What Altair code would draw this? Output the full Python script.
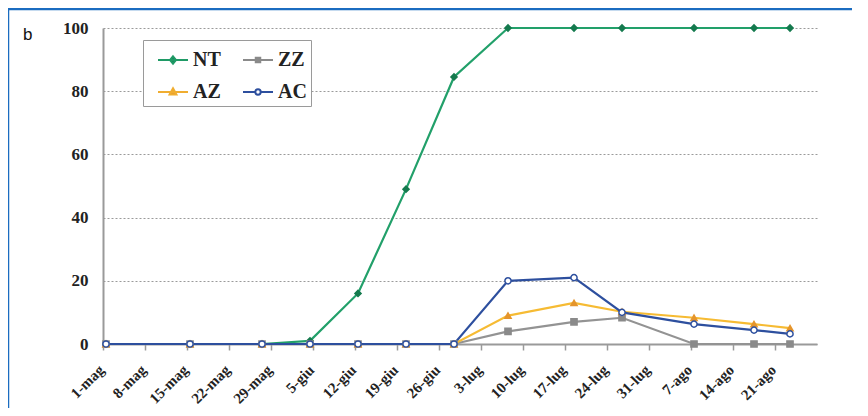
import json
import altair as alt
import pandas as pd

# ---- data -------------------------------------------------------------
series = ["NT", "ZZ", "AZ", "AC"]
dates = ["2011-05-01T12:00:00Z", "2011-05-15T12:00:00Z", "2011-05-27T12:00:00Z",
         "2011-06-04T12:00:00Z", "2011-06-12T12:00:00Z", "2011-06-20T12:00:00Z",
         "2011-06-28T12:00:00Z", "2011-07-07T12:00:00Z", "2011-07-18T12:00:00Z",
         "2011-07-26T12:00:00Z", "2011-08-07T12:00:00Z", "2011-08-17T12:00:00Z",
         "2011-08-23T12:00:00Z"]
nt = [0, 0, 0, 1, 16, 49, 84.5, 100, 100, 100, 100, 100, 100]
zz = [0, 0, 0, 0, 0, 0, 0, 4, 7, 8.3, 0, 0, 0]
az = [0, 0, 0, 0, 0, 0, 0, 9, 13, 10.2, 8.3, 6.3, 5]
ac = [0, 0, 0, 0, 0, 0, 0, 20, 21, 10, 6.3, 4.4, 3.2]
tick_labels = ["1-mag", "8-mag", "15-mag", "22-mag", "29-mag", "5-giu", "12-giu",
               "19-giu", "26-giu", "3-lug", "10-lug", "17-lug", "24-lug", "31-lug",
               "7-ago", "14-ago", "21-ago"]
y_ticks = [0, 20, 40, 60, 80, 100]

line_colors = ["#22a06a", "#939393", "#f6bb33", "#2d4f9e"]
marker_fill = ["#157a4e", "#8a8a8a", "#e5952c", "#ffffff"]
marker_stroke = ["#157a4e", "#8a8a8a", "#e5952c", "#2d4f9e"]
legend_stroke = ["#1f9a66", "#8a8a8a", "#f0ad30", "#2d4f9e"]
marker_shapes = ["diamond", "square", "triangle-up", "circle"]
legend_paths = [
    "M-1,0H1M0,-0.24L0.2,0L0,0.24L-0.2,0Z",
    "M-1,0H1M-0.15,-0.15H0.15V0.15H-0.15Z",
    "M-1,0H1M0,-0.25L0.23,0.17H-0.23Z",
    "M-1,0H-0.18A0.18,0.18 0 1,0 0.18,0A0.18,0.18 0 1,0 -0.18,0M0.18,0H1",
]

rows = []
for s, vals in zip(series, [nt, zz, az, ac]):
    for d, v in zip(dates, vals):
        rows.append({"series": s, "date": d, "value": v})
df = pd.DataFrame(rows)

start_ms = int(pd.Timestamp("2011-05-01", tz="UTC").value // 10**6)
end_ms = int(pd.Timestamp("2011-08-28", tz="UTC").value // 10**6)
week = 7 * 86400000
tick_ms = [start_ms + i * week for i in range(len(tick_labels))]
label_expr = f"{json.dumps(tick_labels)}[round((datum.value - {start_ms}) / {week})]"

SERIF = "Liberation Serif"

x_enc = alt.X("date:T",
              scale=alt.Scale(type="utc", domain=[start_ms, end_ms]),
              axis=alt.Axis(values=tick_ms, labelExpr=label_expr, labelAngle=-45,
                            labelAlign="right", labelBaseline="middle", labelPadding=17,
                            labelOffset=-2,
                            tickSize=6, tickColor="#9a9a9a", tickWidth=1.5,
                            domainColor="#9a9a9a", domainWidth=2,
                            labelFont=SERIF, labelFontWeight="bold", labelFontSize=15,
                            labelColor="#222", labelOverlap=False, labelBound=False,
                            labelFlush=False, grid=False, title=None))
y_enc = alt.Y("value:Q",
              scale=alt.Scale(domain=[0, 100], nice=False),
              axis=alt.Axis(values=y_ticks, grid=True, gridDash=[2, 2], gridColor="#9a9a9a",
                            gridWidth=1, ticks=False, domainColor="#9a9a9a", domainWidth=2,
                            labelFont=SERIF, labelFontWeight="bold", labelFontSize=17,
                            labelColor="#222", labelPadding=15, title=None))

base = alt.Chart(df)

lines = base.mark_line(strokeWidth=2.2).encode(
    x=x_enc, y=y_enc,
    stroke=alt.Stroke("series:N", scale=alt.Scale(domain=series, range=line_colors), legend=None),
    detail="series:N",
)

points = base.mark_point(filled=True, size=38, strokeWidth=1.5, opacity=1).encode(
    x=x_enc, y=y_enc,
    shape=alt.Shape("series:N", scale=alt.Scale(domain=series, range=marker_shapes), legend=None),
    fill=alt.Fill("series:N", scale=alt.Scale(domain=series, range=marker_fill), legend=None),
    stroke=alt.Stroke("series:N", scale=alt.Scale(domain=series, range=marker_stroke), legend=None),
)

leg = alt.Legend(title=None)
legend_layer = base.transform_filter("datum.value < -1").mark_point(
    filled=True, size=900, strokeWidth=2, opacity=1).encode(
    x=x_enc, y=y_enc,
    shape=alt.Shape("series:N", scale=alt.Scale(domain=series, range=legend_paths), legend=leg),
    fill=alt.Fill("series:N", scale=alt.Scale(domain=series, range=marker_fill), legend=leg),
    stroke=alt.Stroke("series:N", scale=alt.Scale(domain=series, range=legend_stroke), legend=leg),
)

one = alt.Chart(pd.DataFrame({"a": [0]}))
label_b = one.mark_text(text="b", font="Liberation Sans", fontSize=17, align="left",
                        baseline="alphabetic", color="#111").encode(
    x=alt.value(-80), y=alt.value(12))
border_left = one.mark_rule(color="#1b6cc0", strokeWidth=2.5).encode(
    x=alt.value(-95), y=alt.value(-19), y2=alt.value(420))
border_top = one.mark_rule(color="#1b6cc0", strokeWidth=2.5).encode(
    x=alt.value(-96), x2=alt.value(900), y=alt.value(-19))

chart = alt.layer(lines, points, legend_layer, label_b, border_left, border_top).resolve_scale(
    stroke="independent", fill="independent", shape="independent"
).properties(
    width=714, height=316,
    padding={"left": 95, "top": 20, "right": 35, "bottom": 64},
    autosize=alt.AutoSizeParams(type="none"),
    background="#ffffff",
).configure_view(stroke=None).configure_legend(
    orient="none", legendX=40, legendY=12, columns=2, direction="horizontal",
    strokeColor="#9a9a9a", fillColor="#ffffff", padding=4, symbolOffset=10,
    symbolSize=900, symbolStrokeWidth=2, labelFont=SERIF, labelFontWeight="bold",
    labelFontSize=20, labelColor="#222", labelOffset=4, columnPadding=11, rowPadding=6,
)

chart.save("out.html", embed_options={"renderer": "svg", "actions": False})
